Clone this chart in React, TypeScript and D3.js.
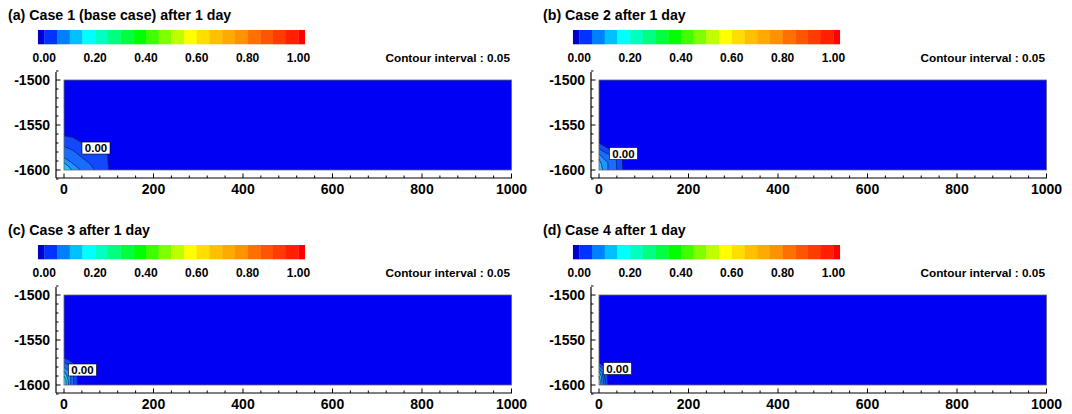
import React from "react";
import * as d3 from "d3";

const TITLES = [
  "(a) Case 1 (base case) after 1 day",
  "(b) Case 2 after 1 day",
  "(c) Case 3 after 1 day",
  "(d) Case 4 after 1 day",
];

// colour legend: below-0 band, 20 bands 0..1 (0.05 step), above-1 band
const LEGEND_COLORS = [
  "#0000cc", "#0033ff", "#0080ff", "#00c0ff", "#00ffff", "#00ffc0", "#00ff80",
  "#00ff40", "#00ff00", "#40ff00", "#80ff00", "#c0ff00", "#ffff00", "#ffdd00",
  "#ffc000", "#ffaa00", "#ff9200", "#ff7000", "#ff5500", "#ff3c00", "#ff2000",
  "#ff0000",
];
const LEGEND_TICKS = [0, 0.2, 0.4, 0.6, 0.8, 1.0];
const CONTOUR_INTERVAL = 0.05;

const X_TICKS = [0, 200, 400, 600, 800, 1000];
const Y_TICKS = [-1500, -1550, -1600];

const BG_COLOR = "#0000f2";
const BAND_COLORS = ["#1248ff", "#1a6cff", "#2094ff", "#22c8ff", "#40e4ff"];

// contour band polygons [x, depth] from left edge to bottom edge, outer -> inner
const CASE1_BANDS: [number, number][][] = [
  [[0, -1562], [20, -1564], [38, -1569], [75, -1575], [97, -1582], [100, -1600]],
  [[0, -1574], [20, -1578], [40, -1586], [58, -1593], [68, -1600]],
  [[0, -1586], [15, -1591], [28, -1596], [36, -1600]],
  [[0, -1592], [10, -1596], [17, -1600]],
];
const CASE2_BANDS: [number, number][][] = [
  [[0, -1570], [24, -1577], [52, -1582], [53, -1600]],
  [[0, -1576], [15, -1581], [38, -1585], [40, -1600]],
  [[0, -1582], [10, -1587], [20, -1592], [20, -1600]],
  [[0, -1588], [5, -1593], [8, -1600]],
];
const CASE3_BANDS: [number, number][][] = [
  [[0, -1570], [10, -1572], [22, -1576], [29, -1583], [30, -1600]],
  [[0, -1575], [12, -1578], [21, -1585], [22, -1600]],
  [[0, -1580], [10, -1584], [15, -1590], [15, -1600]],
  [[0, -1585], [6, -1589], [9, -1594], [10, -1600]],
  [[0, -1590], [4, -1594], [5, -1600]],
];
const CASE4_BANDS: [number, number][][] = [
  [[0, -1575], [8, -1578], [18, -1582], [20, -1600]],
  [[0, -1578], [10, -1583], [15, -1600]],
  [[0, -1582], [7, -1586], [11, -1600]],
  [[0, -1585], [5, -1590], [7, -1600]],
  [[0, -1590], [3, -1595], [3, -1600]],
];
const BANDS = [CASE1_BANDS, CASE2_BANDS, CASE3_BANDS, CASE4_BANDS];

// contour label "0.00" positions [x, depth]
const LABEL_POS: [number, number][] = [
  [71.5, -1575.6],
  [54.7, -1581.7],
  [41.3, -1583.3],
  [41.3, -1581.7],
];
const LABEL_TEXT = "0.00";

const FONT = "'Liberation Sans', Arial, sans-serif";

function Panel({ idx, ox, oy }: { idx: number; ox: number; oy: number }) {
  const x = d3.scaleLinear().domain([0, 1000]).range([64, 511.5]);
  const y = d3.scaleLinear().domain([-1500, -1600]).range([80, 170]);
  const axisY = 178;
  const axisX = 56;
  const xMinor = d3.range(0, 1001, 40).filter((v) => v % 200 !== 0);
  const yMinor = d3.range(-1490, -1611, -10).filter((v) => v % 50 !== 0);

  // legend scale
  const lg = d3.scaleLinear().domain([0, 1]).range([44.3, 298.4]);
  const cell = (lg(1) - lg(0)) / 20;
  const legendX = (i: number) => (i === 0 ? lg(0) - cell / 2 : lg(0) + (i - 1) * cell);
  const legendW = (i: number) => (i === 0 || i === 21 ? cell / 2 : cell);

  const line = d3
    .line<[number, number]>()
    .x((d) => x(d[0]))
    .y((d) => y(d[1]));

  const bands = BANDS[idx];
  const [lx, ly] = LABEL_POS[idx];

  return (
    <g transform={`translate(${ox},${oy})`}>
      <text x={8} y={19.5} fontFamily={FONT} fontWeight="bold" fontSize={14.2} fill="#000">
        {TITLES[idx]}
      </text>
      {LEGEND_COLORS.map((c, i) => (
        <rect key={i} x={legendX(i)} y={30} width={legendW(i) + 0.3} height={14.3} fill={c} />
      ))}
      {LEGEND_TICKS.map((t) => (
        <text
          key={t}
          x={lg(t)}
          y={62}
          textAnchor="middle"
          fontFamily={FONT}
          fontWeight="bold"
          fontSize={12}
        >
          {t.toFixed(2)}
        </text>
      ))}
      <text x={510} y={62} textAnchor="end" fontFamily={FONT} fontWeight="bold" fontSize={11.8}>
        {`Contour interval : ${CONTOUR_INTERVAL.toFixed(2)}`}
      </text>

      {/* plot field */}
      <rect
        x={x(0)}
        y={y(-1500)}
        width={x(1000) - x(0)}
        height={y(-1600) - y(-1500)}
        fill={BG_COLOR}
      />
      {bands.map((b, i) => {
        const poly = [...b, [0, -1600] as [number, number]];
        return (
          <g key={i}>
            <path d={line(poly) + "Z"} fill={BAND_COLORS[i]} />
            <path d={line(b) || ""} fill="none" stroke="#101860" strokeWidth={0.7} />
          </g>
        );
      })}
      <rect
        x={x(0)}
        y={y(-1500)}
        width={x(1000) - x(0)}
        height={y(-1600) - y(-1500)}
        fill="none"
        stroke="#666"
        strokeWidth={0.8}
      />
      {/* contour label */}
      <rect
        x={x(lx) - 14}
        y={y(ly) - 6}
        width={28}
        height={12}
        fill="#fff"
        stroke="#000"
        strokeWidth={0.6}
      />
      <text
        x={x(lx)}
        y={y(ly) + 4.2}
        textAnchor="middle"
        fontFamily={FONT}
        fontWeight="bold"
        fontSize={11.5}
      >
        {LABEL_TEXT}
      </text>

      {/* axes */}
      <line x1={axisX} x2={x(1000) + 0.5} y1={axisY} y2={axisY} stroke="#000" strokeWidth={1.2} />
      <line x1={axisX} x2={axisX} y1={y(-1491)} y2={axisY} stroke="#000" strokeWidth={1.2} />
      {X_TICKS.map((t) => (
        <g key={t}>
          <line x1={x(t)} x2={x(t)} y1={axisY} y2={axisY - 4.5} stroke="#000" strokeWidth={1} />
          <text
            x={x(t)}
            y={193.5}
            textAnchor="middle"
            fontFamily={FONT}
            fontWeight="bold"
            fontSize={14}
          >
            {t}
          </text>
        </g>
      ))}
      {xMinor.map((t) => (
        <line key={t} x1={x(t)} x2={x(t)} y1={axisY} y2={axisY - 2.5} stroke="#000" strokeWidth={1} />
      ))}
      {Y_TICKS.map((t) => (
        <g key={t}>
          <line x1={axisX} x2={axisX + 4.5} y1={y(t)} y2={y(t)} stroke="#000" strokeWidth={1} />
          <text
            x={50}
            y={y(t) + 5}
            textAnchor="end"
            fontFamily={FONT}
            fontWeight="bold"
            fontSize={14}
          >
            {t}
          </text>
        </g>
      ))}
      {yMinor.map((t) => (
        <line key={t} x1={axisX} x2={axisX + 2.5} y1={y(t)} y2={y(t)} stroke="#000" strokeWidth={1} />
      ))}
    </g>
  );
}

export default function App() {
  const offsets: [number, number][] = [
    [0, 0],
    [535, 0],
    [0, 215],
    [535, 215],
  ];
  return (
    <svg
      width={1072}
      height={414}
      style={{ position: "absolute", left: 0, top: 0, background: "#fff" }}
    >
      {offsets.map(([ox, oy], i) => (
        <Panel key={i} idx={i} ox={ox} oy={oy} />
      ))}
    </svg>
  );
}
